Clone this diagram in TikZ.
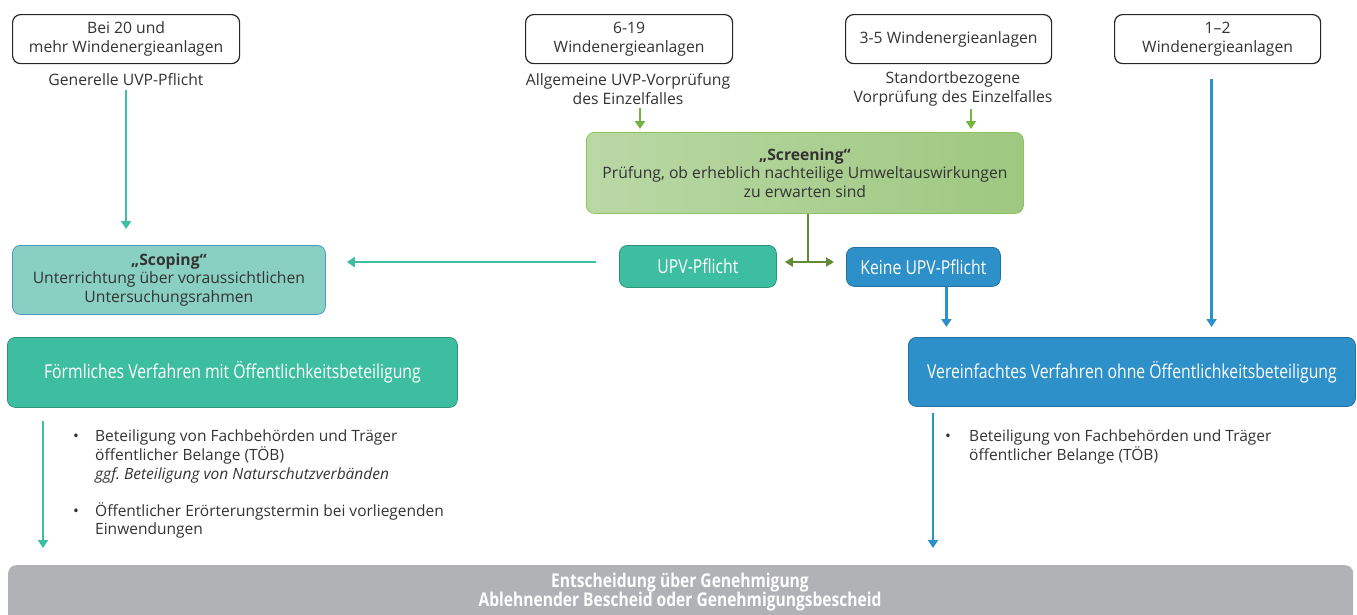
\documentclass[tikz,border=0pt]{standalone}
\usepackage{fontspec}
\setmainfont{Open Sans}
\newfontfamily\condfont[FakeStretch=0.82]{Open Sans}
\usetikzlibrary{arrows.meta, positioning}
\frenchspacing

\definecolor{txtgray}{RGB}{51,51,51}
\definecolor{uvpteal}{RGB}{62,190,160}
\definecolor{uvptealdark}{RGB}{45,150,122}
\definecolor{uvpblue}{RGB}{46,144,200}
\definecolor{uvpbluedark}{RGB}{35,112,160}
\definecolor{screenleft}{RGB}{186,216,166}
\definecolor{screenright}{RGB}{158,200,128}
\definecolor{screenline}{RGB}{140,194,100}
\definecolor{lightgreen}{RGB}{118,180,66}
\definecolor{darkgreen}{RGB}{98,138,55}
\definecolor{scopefill}{RGB}{137,208,194}
\definecolor{scopeline}{RGB}{72,152,200}
\definecolor{finalgray}{RGB}{177,178,181}

\begin{document}
\begin{tikzpicture}[
    x=1pt, y=-1pt,
    font=\fontsize{15.7}{18.5}\selectfont,
    srcbox/.style={rectangle, draw=black!85, line width=1.2pt, fill=white, rounded corners=8pt, minimum height=49pt, align=center, inner sep=0pt, text=txtgray},
    note/.style={align=center, inner sep=0pt, text=txtgray},
    screenbox/.style={rectangle, draw=screenline, line width=0.8pt, left color=screenleft, right color=screenright, rounded corners=8pt, minimum width=437pt, minimum height=81pt, align=center, inner sep=0pt, text=txtgray},
    scopebox/.style={rectangle, draw=scopeline, line width=0.8pt, fill=scopefill, rounded corners=8pt, minimum width=313pt, minimum height=69pt, align=center, inner sep=0pt, text=txtgray},
    tealbox/.style={rectangle, draw=uvptealdark, line width=0.8pt, fill=uvpteal, rounded corners=8pt, align=center, inner sep=0pt, text=white, font=\condfont\fontsize{19.2}{21}\selectfont},
    bluebox/.style={rectangle, draw=uvpbluedark, line width=0.8pt, fill=uvpblue, rounded corners=8pt, align=center, inner sep=0pt, text=white, font=\condfont\fontsize{19.2}{21}\selectfont},
    finalbox/.style={rectangle, fill=finalgray, rounded corners=8pt, minimum width=1345pt, minimum height=70pt, inner sep=0pt},
    bullets/.style={align=left, inner sep=0pt, text=txtgray, font=\fontsize{15.5}{18.5}\selectfont},
    tealarrow/.style={-{Triangle[length=8pt,width=10pt]}, line width=2.6pt, draw=uvpteal},
    bluearrow/.style={-{Triangle[length=8pt,width=10pt]}, line width=2.6pt, draw=uvpblue},
    greenarrow/.style={-{Triangle[length=8pt,width=10pt]}, line width=2.6pt, draw=lightgreen},
    darkarrow/.style={line width=2.6pt, draw=darkgreen}
]
    \useasboundingbox (0,0) rectangle (1357,614);

    % number of turbines
    \node[srcbox, minimum width=227pt, anchor=north west] (many) at (12,14) {Bei 20 und\\mehr Windenergieanlagen};
    \node[srcbox, minimum width=207pt, anchor=north west] (mid) at (525,14) {6-19\\Windenergieanlagen};
    \node[srcbox, minimum width=206pt, anchor=north west] (few) at (845,14) {3-5 Windenergieanlagen};
    \node[srcbox, minimum width=206pt, anchor=north west] (single) at (1114,14) {1–2\\Windenergieanlagen};

    \node[note] (manynote) at (126,80) {Generelle UVP-Pflicht};
    \node[note] (midnote) at (628,89) {Allgemeine UVP-Vorprüfung\\des Einzelfalles};
    \node[note] (fewnote) at (953,89) {Standortbezogene\\Vorprüfung des Einzelfalles};

    % screening
    \node[screenbox, anchor=north west] (screen) at (586,132) {\textbf{„Screening“}\\Prüfung, ob erheblich nachteilige Umweltauswirkungen\\zu erwarten sind};
    \node[tealbox, minimum width=157pt, minimum height=42pt, anchor=north west] (upv) at (619,245) {UPV-Pflicht};
    \node[bluebox, minimum width=154pt, minimum height=39pt, anchor=north west] (noupv) at (846,247) {Keine UPV-Pflicht};
    \coordinate (fork) at (808,262);

    % scoping
    \node[scopebox, anchor=north west] (scope) at (12,245) {\textbf{„Scoping“}\\Unterrichtung über voraussichtlichen\\Untersuchungsrahmen};

    % procedures
    \node[tealbox, minimum width=450pt, minimum height=70pt, anchor=north west] (formal) at (7,337) {Förmliches Verfahren mit Öffentlichkeitsbeteiligung};
    \node[bluebox, minimum width=447pt, minimum height=69pt, anchor=north west] (simple) at (908,337) {Vereinfachtes Verfahren ohne Öffentlichkeitsbeteiligung};

    \node[bullets, anchor=north west] (formallist) at (73,428) {%
        \begin{tabular}{@{}p{22pt}@{}l@{}}
        • & Beteiligung von Fachbehörden und Träger\\
          & öffentlicher Belange (TÖB)\\
          & \textit{ggf. Beteiligung von Naturschutzverbänden}\\[18pt]
        • & Öffentlicher Erörterungstermin bei vorliegenden\\
          & Einwendungen
        \end{tabular}};
    \node[bullets, anchor=north west] (simplelist) at (945,428) {%
        \begin{tabular}{@{}p{24pt}@{}l@{}}
        • & Beteiligung von Fachbehörden und Träger\\
          & öffentlicher Belange (TÖB)
        \end{tabular}};

    % decision
    \node[finalbox, anchor=north west] (final) at (8,565) {};
    \node[align=center, inner sep=0pt, text=white, font=\condfont\bfseries\fontsize{19}{19}\selectfont] (finaltext) at (680,592) {Entscheidung über Genehmigung\\Ablehnender Bescheid oder Genehmigungsbescheid};

    % connectors
    \draw[tealarrow, shorten <=4pt, shorten >=16pt] (manynote.south -| many.south) -- (many.south |- scope.north);
    \draw[greenarrow, shorten <=3pt, shorten >=3pt] ([xshift=12pt]midnote.south) -- ([xshift=12pt]midnote.south |- screen.north);
    \draw[greenarrow, shorten <=3pt, shorten >=3pt] ([xshift=18pt]fewnote.south) -- ([xshift=18pt]fewnote.south |- screen.north);
    \draw[bluearrow, shorten <=15pt, shorten >=10pt] ([xshift=-6pt]single.south) -- ([xshift=-6pt]single.south |- simple.north);

    \draw[darkarrow] (screen.south -| fork) -- (fork);
    \draw[darkarrow, {Triangle[length=8pt,width=9pt]}-{Triangle[length=8pt,width=9pt]}, shorten <=8pt, shorten >=12pt] (fork -| upv.east) -- (fork -| noupv.west);

    \draw[tealarrow, shorten <=23pt, shorten >=21pt] (fork -| upv.west) -- (fork -| scope.east);
    \draw[bluearrow, shorten >=10pt] ([xshift=23pt]noupv.south) -- ([xshift=23pt]noupv.south |- simple.north);

    \draw[tealarrow, shorten <=13pt, shorten >=17pt] ([xshift=36pt]formal.south west) -- ([xshift=36pt]formal.south west |- final.north);
    \draw[bluearrow, shorten <=6pt, shorten >=17pt] ([xshift=25pt]simple.south west) -- ([xshift=25pt]simple.south west |- final.north);
\end{tikzpicture}
\end{document}
